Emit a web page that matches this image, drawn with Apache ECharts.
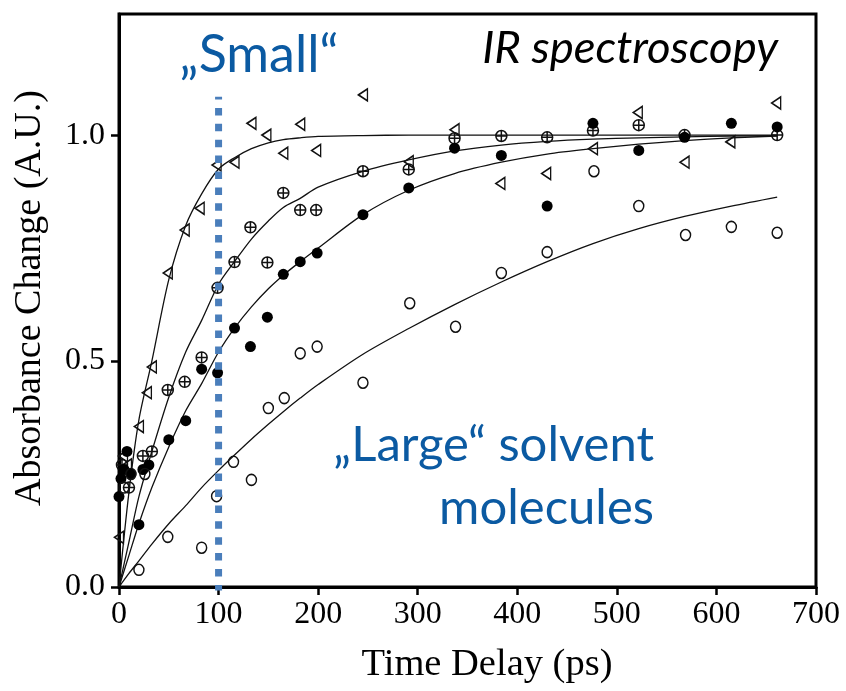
<!DOCTYPE html>
<html>
<head>
<meta charset="utf-8">
<script src="https://cdn.jsdelivr.net/npm/echarts@6/dist/echarts.min.js"></script>
<style>
  html, body { margin: 0; padding: 0; background: #fff; }
  #chart { width: 846px; height: 691px; }
</style>
</head>
<body>
<div id="chart"></div>
<script>
// Measured points: [time delay (ps), absorbance change (A.U.)]
const triangles = [
  [0, 0.11], [4, 0.29], [8, 0.27], [20, 0.355], [28, 0.43], [33, 0.487], [49, 0.695],
  [66, 0.79], [81, 0.838], [98, 0.934], [116, 0.94], [133, 1.026], [148, 1.0],
  [165, 0.96], [182, 1.024], [198, 0.966], [245, 1.089], [291, 0.941], [337, 1.012],
  [383, 0.893], [429, 0.915], [476, 0.97], [521, 1.05], [568, 0.94], [614, 0.985], [660, 1.071]
];
const crossedCircles = [
  [3, 0.27], [10, 0.22], [24, 0.29], [33, 0.30], [49, 0.436], [66, 0.454], [83, 0.508],
  [99, 0.662], [116, 0.719], [132, 0.796], [149, 0.718], [165, 0.872], [182, 0.834],
  [198, 0.834], [245, 0.92], [291, 0.924], [337, 0.993], [384, 0.998], [430, 0.995],
  [476, 1.01], [522, 1.022], [568, 1.0], [661, 1.0]
];
const filledCircles = [
  [0, 0.2], [2, 0.24], [5, 0.26], [8, 0.3], [12, 0.25], [20, 0.138], [24, 0.26], [30, 0.27],
  [50, 0.326], [67, 0.368], [83, 0.482], [99, 0.474], [116, 0.573], [132, 0.532],
  [149, 0.597], [165, 0.692], [182, 0.72], [199, 0.739], [245, 0.824], [291, 0.883],
  [337, 0.971], [384, 0.955], [430, 0.843], [476, 1.026], [522, 0.966], [568, 0.995],
  [615, 1.026], [661, 1.018]
];
const openCircles = [
  [5, 0.22], [12, 0.25], [20, 0.038], [26, 0.25], [49, 0.111], [83, 0.087], [98, 0.201],
  [115, 0.277], [133, 0.237], [150, 0.396], [166, 0.418], [182, 0.517], [199, 0.532],
  [245, 0.452], [292, 0.628], [338, 0.576], [384, 0.695], [430, 0.741], [477, 0.92],
  [522, 0.843], [569, 0.779], [615, 0.797], [661, 0.784]
];

// Fitted rise curves, sampled at these delays
const fitTimes = [0, 10, 20, 33, 50, 67, 83, 100, 116, 133, 150, 165, 182, 200, 245, 291, 337, 384, 430, 476, 522, 568, 615, 661];
const fitTriangles = [0, 0.21, 0.37, 0.50, 0.68, 0.80, 0.87, 0.925, 0.95, 0.97, 0.983, 0.99, 0.994, 0.997, 0.999, 1.0, 1.0, 1.0, 1.0, 1.0, 1.0, 1.0, 1.0, 1.0];
const fitCrossed = [0, 0.10, 0.20, 0.30, 0.42, 0.52, 0.59, 0.67, 0.72, 0.77, 0.81, 0.84, 0.86, 0.885, 0.92, 0.945, 0.965, 0.978, 0.986, 0.991, 0.994, 0.996, 0.998, 0.999];
const fitFilled = [0, 0.07, 0.14, 0.22, 0.31, 0.39, 0.45, 0.52, 0.573, 0.62, 0.66, 0.69, 0.72, 0.75, 0.824, 0.878, 0.915, 0.94, 0.958, 0.97, 0.98, 0.988, 0.994, 0.998];
const fitOpen = [0, 0.03, 0.058, 0.095, 0.14, 0.18, 0.22, 0.258, 0.292, 0.327, 0.36, 0.388, 0.418, 0.448, 0.515, 0.572, 0.625, 0.675, 0.72, 0.76, 0.793, 0.82, 0.843, 0.863];

// Dotted marker at 100 ps
const markerTime = 100;
const markerRange = [-0.012, 1.085];

const xTicks = [0, 100, 200, 300, 400, 500, 600, 700];
const yTicks = [0, 0.5, 1.0];

const serif = '"Liberation Serif", "Times New Roman", serif';
const sans = 'Lato, "Open Sans", sans-serif';
const blue = '#0b5aa2';

const pair = (xs, ys) => xs.map((x, i) => [x, ys[i]]);

const fitLine = (ys) => ({
  type: 'line',
  data: pair(fitTimes, ys),
  smooth: 0.3,
  showSymbol: false,
  lineStyle: { color: '#111', width: 1.3 },
  z: 2,
  silent: true
});

const openStyle = { color: 'rgba(0,0,0,0)', borderColor: '#111', borderWidth: 1.5, opacity: 1 };

const chart = echarts.init(document.getElementById('chart'), null, { renderer: 'canvas' });
chart.setOption({
  animation: false,
  backgroundColor: '#fff',
  grid: {
    left: 119, top: 14, right: 30, bottom: 104,
    show: true, borderColor: '#000', borderWidth: 3, backgroundColor: 'transparent'
  },
  xAxis: {
    type: 'value', min: xTicks[0], max: xTicks[xTicks.length - 1], interval: 100,
    axisLine: { lineStyle: { color: '#000', width: 3 } },
    axisTick: { inside: false, length: 8, lineStyle: { color: '#000', width: 2.5 } },
    axisLabel: { color: '#000', fontFamily: serif, fontSize: 32, margin: 12 },
    splitLine: { show: false }
  },
  yAxis: {
    type: 'value', min: 0, max: 1.268, interval: 0.5,
    axisLine: { lineStyle: { color: '#000', width: 3 } },
    axisTick: { inside: false, length: 8, customValues: yTicks, lineStyle: { color: '#000', width: 2.5 } },
    axisLabel: {
      color: '#000', fontFamily: serif, fontSize: 32, margin: 14,
      customValues: yTicks, formatter: (v) => v.toFixed(1)
    },
    splitLine: { show: false }
  },
  series: [
    fitLine(fitTriangles),
    fitLine(fitCrossed),
    fitLine(fitFilled),
    fitLine(fitOpen),
    {
      type: 'scatter', data: triangles, z: 3,
      symbol: 'path://M0,6 L10,0 L10,12 Z', symbolSize: [9, 12],
      itemStyle: openStyle
    },
    {
      type: 'scatter', data: crossedCircles, z: 3,
      symbol: 'path://M-5,0 A5,5 0 1,0 5,0 A5,5 0 1,0 -5,0 Z M0,-5 L0,5 M-5,0 L5,0',
      symbolSize: 11,
      itemStyle: openStyle
    },
    {
      type: 'scatter', data: filledCircles, z: 3,
      symbol: 'circle', symbolSize: 11,
      itemStyle: { color: '#000', opacity: 1 }
    },
    {
      type: 'scatter', data: openCircles, z: 3,
      symbol: 'circle', symbolSize: [10, 11],
      itemStyle: openStyle
    },
    {
      type: 'line', z: 5, silent: true, showSymbol: false,
      data: [[markerTime, markerRange[0]], [markerTime, markerRange[1]]],
      lineStyle: { color: '#4a7ebb', width: 7, type: [7.5, 8.4], cap: 'butt' }
    }
  ],
  graphic: [
    {
      type: 'text', x: 487, y: 665,
      style: { text: 'Time Delay (ps)', fontFamily: serif, fontSize: 38.5, fill: '#000', align: 'center', verticalAlign: 'middle' }
    },
    {
      type: 'text', x: 30, y: 298, rotation: Math.PI / 2,
      style: { text: 'Absorbance Change (A.U.)', fontFamily: serif, fontSize: 38, fill: '#000', align: 'center', verticalAlign: 'middle' }
    },
    {
      type: 'text', x: 259, y: 55,
      style: { text: '\u201ESmall\u201C', fontFamily: sans, fontSize: 52, fill: blue, align: 'center', verticalAlign: 'middle' }
    },
    {
      type: 'text', x: 778, y: 48,
      style: { text: 'IR spectroscopy', fontFamily: sans, fontStyle: 'italic', fontSize: 45.5, fill: '#000', align: 'right', verticalAlign: 'middle' }
    },
    {
      type: 'text', x: 654, y: 445,
      style: { text: '\u201ELarge\u201C solvent', fontFamily: sans, fontSize: 49, fill: blue, align: 'right', verticalAlign: 'middle' }
    },
    {
      type: 'text', x: 654, y: 508,
      style: { text: 'molecules', fontFamily: sans, fontSize: 49, fill: blue, align: 'right', verticalAlign: 'middle' }
    }
  ]
});
</script>
</body>
</html>
